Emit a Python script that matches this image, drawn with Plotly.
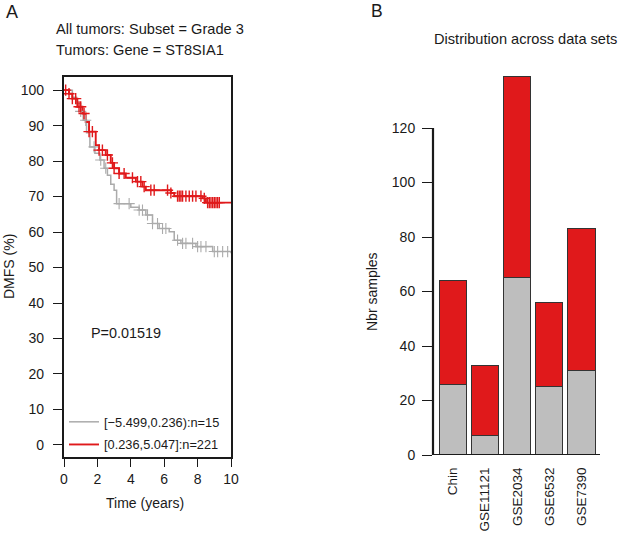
import plotly.graph_objects as go
import numpy as np

# ---------------- Panel A data (Kaplan-Meier) ----------------
red_t = [0, 0.3, 0.5, 0.8, 1.1, 1.3, 1.5, 1.9, 2.1, 2.5, 2.8, 3.0, 3.3, 3.7, 4.3, 4.7, 4.9, 6.4, 6.6, 8.3, 8.5, 10]
red_s = [100, 99, 97.6, 95.3, 93.4, 91.0, 88.3, 84.5, 83.1, 81.7, 79.5, 78.0, 76.5, 75.3, 74.2, 72.8, 71.8, 71.0, 70.1, 69.5, 68.3, 68.3]
red_cens = [0.1, 0.3, 0.5, 0.7, 0.9, 1.0, 1.2, 1.5, 1.7, 2.1, 2.3, 2.6, 2.9, 3.0, 3.3, 3.6, 4.1, 4.4, 4.6, 4.8,
            5.2, 5.4, 6.2, 6.4, 6.8, 6.9, 7.0, 7.1, 7.3, 7.5, 7.7, 7.9, 8.2, 8.4, 8.6, 8.7, 8.8, 8.9, 9.0, 9.1, 9.2, 9.3]

gray_t = [0, 0.5, 0.75, 1.0, 1.15, 1.35, 1.55, 1.85, 2.15, 2.4, 2.6, 2.8, 3.0, 3.15, 4.0, 4.5, 4.9, 5.3, 5.7, 6.3, 6.6, 7.0, 7.9, 8.9, 10]
gray_s = [100, 98, 96.2, 94, 91.5, 88, 84, 82.2, 80.3, 78, 76, 73.5, 71.8, 68, 67.0, 66.2, 64.8, 62.4, 61, 60.1, 57.7, 56.8, 55.9, 54.5, 54]
gray_cens = [1.0, 1.3, 1.8, 2.2, 2.5, 3.3, 3.9, 4.5, 4.7, 5.0, 5.3, 5.6, 5.9, 6.1, 6.8, 7.1, 7.3, 7.7, 8.0, 8.2,
             8.5, 9.0, 9.2, 9.5, 9.8]

legend_labels = ["[\u22125.499,0.236):n=15", "[0.236,5.047]:n=221"]
x_ticks_A = [0, 2, 4, 6, 8, 10]
y_ticks_A = [0, 10, 20, 30, 40, 50, 60, 70, 80, 90, 100]
p_text = "P=0.01519"

# ---------------- Panel B data (stacked bars) ----------------
datasets = ["Chin", "GSE11121", "GSE2034", "GSE6532", "GSE7390"]
low_counts = [26, 7, 65, 25, 31]
total_counts = [64, 33, 139, 56, 83]
high_counts = [t - l for t, l in zip(total_counts, low_counts)]
y_ticks_B = [0, 20, 40, 60, 80, 100, 120]

RED = "#E0191B"
GRAY_LINE = "#ABABAB"
GRAY_BAR = "#BEBEBE"
FONT = "Liberation Sans, Arial, Helvetica, sans-serif"
TXT = "#1a1a1a"

W, H = 619, 536
def px(x):
    return x / W
def py(y):
    return 1 - y / H

def step_lookup(ts, ss, t):
    idx = np.searchsorted(np.array(ts), t, side="right") - 1
    return ss[max(idx, 0)]

fig = go.Figure()

# KM curves
fig.add_trace(go.Scatter(x=gray_t, y=gray_s, mode="lines", line=dict(color=GRAY_LINE, width=1.5, shape="hv"),
                         name=legend_labels[0], legendgroup="g1", xaxis="x", yaxis="y", showlegend=True))
fig.add_trace(go.Scatter(x=red_t, y=red_s, mode="lines", line=dict(color=RED, width=1.9, shape="hv"),
                         name=legend_labels[1], legendgroup="g2", xaxis="x", yaxis="y", showlegend=True))
fig.add_trace(go.Scatter(x=gray_cens, y=[step_lookup(gray_t, gray_s, t) for t in gray_cens], mode="markers",
                         marker=dict(symbol="cross-thin", size=8, line=dict(color=GRAY_LINE, width=1.1)),
                         xaxis="x", yaxis="y", showlegend=False, hoverinfo="skip"))
fig.add_trace(go.Scatter(x=red_cens, y=[step_lookup(red_t, red_s, t) for t in red_cens], mode="markers",
                         marker=dict(symbol="cross-thin", size=8, line=dict(color=RED, width=1.4)),
                         xaxis="x", yaxis="y", showlegend=False, hoverinfo="skip"))

# Bars
fig.add_trace(go.Bar(x=datasets, y=low_counts, marker=dict(color=GRAY_BAR, line=dict(color="#333333", width=1)),
                     xaxis="x2", yaxis="y2", showlegend=False))
fig.add_trace(go.Bar(x=datasets, y=high_counts, marker=dict(color=RED, line=dict(color="#333333", width=1)),
                     xaxis="x2", yaxis="y2", showlegend=False))

axis_font = dict(family=FONT, size=14, color=TXT)

fig.update_layout(
    width=W, height=H,
    margin=dict(l=0, r=0, t=0, b=0, autoexpand=False),
    paper_bgcolor="white", plot_bgcolor="white",
    font=dict(family=FONT, color=TXT),
    barmode="stack", bargap=0.145,
    xaxis=dict(domain=[px(64), px(231)], range=[0, 10], tickvals=x_ticks_A, ticks="outside", ticklen=8,
               tickwidth=1.3, tickcolor=TXT, showline=True, linewidth=2.2, linecolor=TXT, mirror=True,
               showgrid=False, zeroline=False, tickfont=axis_font, anchor="y", automargin=False),
    yaxis=dict(domain=[py(457), py(77)], range=[-3.4, 103.7], tickvals=y_ticks_A, ticks="outside", ticklen=9,
               tickwidth=1.3, tickcolor=TXT, showline=True, linewidth=2.2, linecolor=TXT, mirror=True,
               showgrid=False, zeroline=False, tickfont=axis_font, ticklabelstandoff=6, anchor="x", automargin=False),
    xaxis2=dict(domain=[px(433), px(600)], range=[-0.62, 4.58], type="category", ticks="outside", ticklen=6,
                tickcolor="rgba(0,0,0,0)", tickangle=-90, showline=False, showgrid=False, zeroline=False,
                tickfont=dict(family=FONT, size=13.5, color=TXT), anchor="y2", automargin=False),
    yaxis2=dict(domain=[py(455), py(60)], range=[0, 145], tickvals=y_ticks_B, ticks="outside", ticklen=10,
                tickwidth=1.3, tickcolor=TXT, showline=False, showgrid=False, zeroline=False,
                tickfont=axis_font, ticklabelstandoff=4, anchor="x2", automargin=False),
    legend=dict(x=px(64), y=py(407), xanchor="left", yanchor="top", bgcolor="rgba(0,0,0,0)",
                traceorder="grouped",
                font=dict(family=FONT, size=12.8, color=TXT), itemwidth=30, tracegroupgap=3),
    shapes=[
        dict(type="line", xref="paper", yref="y2", x0=px(433), x1=px(433), y0=0, y1=120,
             line=dict(color=TXT, width=2.2)),
        dict(type="line", xref="paper", yref="y2", x0=px(433), x1=px(600), y0=0, y1=0,
             line=dict(color=TXT, width=2.2)),
    ],
    annotations=[
        dict(text="A", x=px(4), y=py(12), xref="paper", yref="paper", xanchor="left", yanchor="middle",
             showarrow=False, font=dict(family=FONT, size=18, color=TXT)),
        dict(text="B", x=px(369), y=py(11), xref="paper", yref="paper", xanchor="left", yanchor="middle",
             showarrow=False, font=dict(family=FONT, size=17.5, color=TXT)),
        dict(text="All tumors: Subset = Grade 3", x=px(54), y=py(29), xref="paper", yref="paper",
             xanchor="left", yanchor="middle", showarrow=False, font=dict(family=FONT, size=14.6, color=TXT)),
        dict(text="Tumors: Gene = ST8SIA1", x=px(54), y=py(50), xref="paper", yref="paper",
             xanchor="left", yanchor="middle", showarrow=False, font=dict(family=FONT, size=14.6, color=TXT)),
        dict(text="DMFS (%)", x=px(9), y=py(267), xref="paper", yref="paper", textangle=-90,
             xanchor="center", yanchor="middle", showarrow=False, font=dict(family=FONT, size=14, color=TXT)),
        dict(text="Time (years)", x=px(145), y=py(503), xref="paper", yref="paper",
             xanchor="center", yanchor="middle", showarrow=False, font=dict(family=FONT, size=14, color=TXT)),
        dict(text=p_text, x=px(89), y=py(333), xref="paper", yref="paper",
             xanchor="left", yanchor="middle", showarrow=False, font=dict(family=FONT, size=14.4, color=TXT)),
        dict(text="Distribution across data sets", x=px(525), y=py(39), xref="paper", yref="paper",
             xanchor="center", yanchor="middle", showarrow=False, font=dict(family=FONT, size=14.6, color=TXT)),
        dict(text="Nbr samples", x=px(372), y=py(292), xref="paper", yref="paper", textangle=-90,
             xanchor="center", yanchor="middle", showarrow=False, font=dict(family=FONT, size=14, color=TXT)),
    ],
)

fig.write_html("out.html", config={"displayModeBar": False},
               post_script="document.body.style.margin='0';document.body.style.overflow='hidden';")
